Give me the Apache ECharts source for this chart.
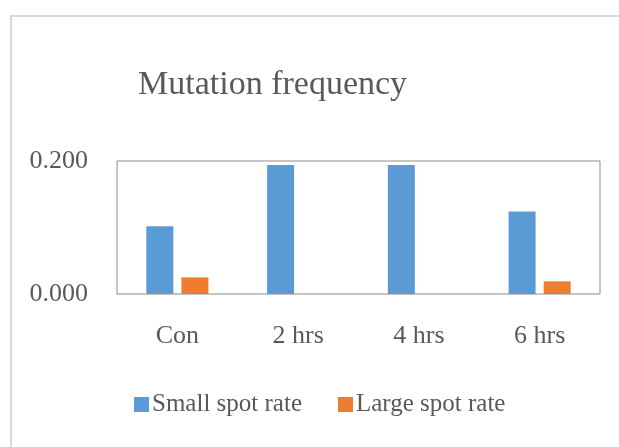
<!DOCTYPE html>
<html>
<head>
<meta charset="utf-8">
<script src="https://cdn.jsdelivr.net/npm/echarts@6/dist/echarts.min.js"></script>
<style>
    html, body { margin: 0; padding: 0; background: #fff; }
    #chart { width: 619px; height: 447px; }
</style>
</head>
<body>
<div id="chart"></div>
<script>
// Data
var categories = ['Con', '2 hrs', '4 hrs', '6 hrs'];
var smallSpotRate = [0.102, 0.194, 0.194, 0.124];
var largeSpotRate = [0.025, 0, 0, 0.019];
var yTicks = [0, 0.2];

// Colors
var textColor = '#595959',
    frameColor = '#d9d9d9',
    plotBorderColor = '#8c8c8c',
    fontName = 'Liberation Serif';

var chart = echarts.init(document.getElementById('chart'), null, { renderer: 'canvas' });

chart.setOption({
    backgroundColor: '#fff',
    animation: false,
    textStyle: {
        fontFamily: fontName,
        color: textColor
    },

    // Title
    title: {
        text: 'Mutation frequency',
        left: 133,
        top: 63,
        textStyle: {
            fontFamily: fontName,
            fontWeight: 'normal',
            fontSize: 34,
            color: textColor
        }
    },

    // Outer chart frame (only top and left edges are visible)
    graphic: [
        { type: 'line', shape: { x1: 10, y1: 16, x2: 619, y2: 16 }, style: { stroke: frameColor, lineWidth: 2 } },
        { type: 'line', shape: { x1: 11, y1: 16, x2: 11, y2: 447 }, style: { stroke: frameColor, lineWidth: 2 } }
    ],

    legend: {
        data: ['Small spot rate', 'Large spot rate'],
        left: 129,
        top: 387,
        itemWidth: 15,
        itemHeight: 15,
        itemGap: 36,
        icon: 'rect',
        textStyle: {
            fontFamily: fontName,
            fontSize: 25,
            color: textColor,
            padding: [0, 0, 0, -2]
        }
    },

    grid: {
        left: 117,
        right: 19,
        top: 161,
        bottom: 153,
        show: true,
        borderColor: plotBorderColor,
        borderWidth: 1,
        containLabel: false
    },

    xAxis: {
        type: 'category',
        data: categories,
        axisLine: { show: false },
        axisTick: { show: false },
        axisLabel: {
            fontFamily: fontName,
            fontSize: 26,
            color: textColor,
            margin: 29
        }
    },

    yAxis: {
        type: 'value',
        min: yTicks[0],
        max: yTicks[yTicks.length - 1],
        interval: yTicks[1] - yTicks[0],
        axisLine: { show: false },
        axisTick: { show: false },
        splitLine: { show: false },
        axisLabel: {
            fontFamily: fontName,
            fontSize: 26,
            color: textColor,
            margin: 29,
            padding: [0, 0, 6, 0],
            formatter: function (v) { return v.toFixed(3); }
        }
    },

    series: [
        {
            name: 'Small spot rate',
            type: 'bar',
            data: smallSpotRate,
            barWidth: 27,
            barGap: '30%',
            itemStyle: { color: '#5b9bd5' }
        },
        {
            name: 'Large spot rate',
            type: 'bar',
            data: largeSpotRate,
            barWidth: 27,
            itemStyle: { color: '#ed7d31' }
        }
    ]
});
</script>
</body>
</html>
